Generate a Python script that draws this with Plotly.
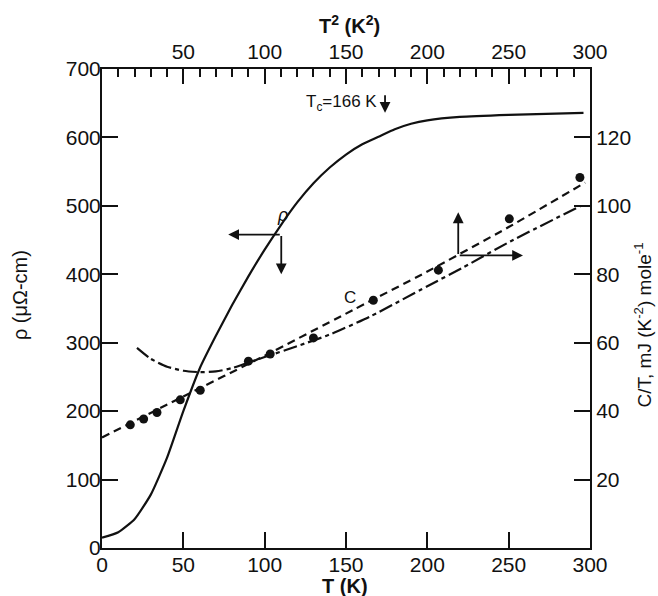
import plotly.graph_objects as go

# ---- data ----
# resistivity rho (micro-ohm cm) vs T (K)
rho_T = [0, 10, 20, 30, 40, 50, 60, 70, 80, 90, 100, 110, 120, 130, 140, 150, 160, 170, 180, 190, 200, 220, 250, 296]
rho_v = [15, 23, 42, 78, 132, 200, 262, 310, 355, 397, 436, 472, 505, 533, 556, 575, 590, 601, 612, 620, 625, 630, 633, 636]

# measured C/T points (mJ K^-2 mole^-1) vs T^2 scale
pts_x = [17.4, 25.6, 33.8, 48.1, 60.4, 90.0, 103.4, 130.0, 166.8, 206.8, 250.4, 293.8]
pts_y = [36.0, 37.7, 39.6, 43.3, 46.1, 54.6, 56.7, 61.4, 72.4, 81.2, 96.2, 108.3]

# upper dashed fit line (C)
fit_x = [0, 50, 100, 150, 200, 250, 297]
fit_y = [32.3, 44.3, 56.2, 68.5, 80.8, 93.8, 106.8]

# lower dash-dot curve
low_x = [21.5, 30, 40, 50, 60, 70, 80, 90, 100, 120, 140, 165, 200, 222, 251, 294]
low_y = [58.5, 55.3, 53.0, 51.8, 51.4, 51.6, 52.6, 54.2, 55.8, 59.0, 62.4, 67.7, 76.5, 82.0, 89.6, 99.9]

bottom_ticks = [0, 50, 100, 150, 200, 250, 300]
top_ticks = [50, 100, 150, 200, 250, 300]
left_ticks = [0, 100, 200, 300, 400, 500, 600, 700]
right_ticks = [20, 40, 60, 80, 100, 120]

FONT = "Liberation Sans"
INK = "#111111"

fig = go.Figure()

fig.add_trace(go.Scatter(x=rho_T, y=rho_v, mode="lines", xaxis="x", yaxis="y",
                         line=dict(color=INK, width=2.2, shape="spline", smoothing=0.5),
                         showlegend=False, hoverinfo="skip"))
fig.add_trace(go.Scatter(x=fit_x, y=fit_y, mode="lines", xaxis="x2", yaxis="y2",
                         line=dict(color=INK, width=2.2, dash="8px,5px", shape="spline", smoothing=0.5),
                         showlegend=False, hoverinfo="skip"))
fig.add_trace(go.Scatter(x=low_x, y=low_y, mode="lines", xaxis="x2", yaxis="y2",
                         line=dict(color=INK, width=2.2, dash="14px,4px,4px,4px", shape="spline", smoothing=0.6),
                         showlegend=False, hoverinfo="skip"))
fig.add_trace(go.Scatter(x=pts_x, y=pts_y, mode="markers", xaxis="x2", yaxis="y2",
                         marker=dict(color=INK, size=9),
                         showlegend=False, hoverinfo="skip"))

tickfont = dict(family=FONT, size=21, color=INK)
axis_common = dict(showgrid=False, zeroline=False, showline=True, linecolor=INK, linewidth=2,
                   ticks="inside", tickcolor=INK, tickwidth=1.5, tickfont=tickfont)

fig.update_layout(
    width=658, height=596,
    margin=dict(l=102, r=68, t=69, b=48),
    paper_bgcolor="white", plot_bgcolor="white",
    xaxis=dict(range=[0, 300], tickvals=bottom_ticks, ticklen=16, ticklabelstandoff=-3, **axis_common),
    yaxis=dict(range=[0, 700], tickvals=left_ticks, ticklen=16, ticklabelstandoff=-5, **axis_common),
    xaxis2=dict(range=[0, 300], tickvals=top_ticks, ticklen=15, overlaying="x", side="top",
                minor=dict(dtick=10, tick0=0, ticklen=8, ticks="inside", tickcolor=INK, tickwidth=1.5),
                **axis_common),
    yaxis2=dict(range=[0, 140], tickvals=right_ticks, ticklen=16, overlaying="y", side="right",
                **axis_common),
)

txt = dict(family=FONT, size=20, color=INK)
ann = []
# axis titles
ann.append(dict(text="ρ (μΩ-cm)", xref="paper", yref="paper", x=-0.168, y=0.528,
                xanchor="center", yanchor="middle", textangle=-90, showarrow=False, font=txt))
ann.append(dict(text="C/T, mJ (K<sup>-2</sup>) mole<sup>-1</sup>", xref="paper", yref="paper",
                x=1.108, y=0.466, xanchor="center", yanchor="middle", textangle=-90, showarrow=False,
                font=dict(family=FONT, size=19, color=INK)))
ann.append(dict(text="<b>T (K)</b>", xref="paper", yref="paper", x=0.498, y=-0.079,
                xanchor="center", yanchor="middle", showarrow=False, font=txt))
ann.append(dict(text="<b>T<sup>2</sup> (K<sup>2</sup>)</b>", xref="paper", yref="paper", x=0.508, y=1.092,
                xanchor="center", yanchor="middle", showarrow=False, font=txt))
# Tc label and arrow
ann.append(dict(text="T<sub>c</sub>=166 K", xref="x", yref="y", x=170, y=650, xanchor="right",
                yanchor="middle", showarrow=False, font=dict(family=FONT, size=17, color=INK)))
ann.append(dict(text="", xref="x", yref="y", x=174, y=636, ax=174, ay=664, axref="x", ayref="y",
                showarrow=True, arrowhead=2, arrowsize=1.2, arrowwidth=1.8, arrowcolor=INK))
# rho label and arrows
ann.append(dict(text="<i>ρ</i>", xref="x", yref="y", x=111, y=487, xanchor="center", yanchor="middle",
                showarrow=False, font=dict(family=FONT, size=18, color=INK)))
ann.append(dict(text="", xref="x", yref="y", x=77.6, y=458, ax=110.2, ay=458, axref="x", ayref="y",
                showarrow=True, arrowhead=2, arrowsize=1.2, arrowwidth=1.8, arrowcolor=INK))
ann.append(dict(text="", xref="x", yref="y", x=110.2, y=400, ax=110.2, ay=458, axref="x", ayref="y",
                showarrow=True, arrowhead=2, arrowsize=1.2, arrowwidth=1.8, arrowcolor=INK))
# C label and arrows
ann.append(dict(text="C", xref="x2", yref="y2", x=152.4, y=73.2, xanchor="center", yanchor="middle",
                showarrow=False, font=dict(family=FONT, size=17, color=INK)))
ann.append(dict(text="", xref="x2", yref="y2", x=219, y=98.1, ax=219, ay=85.5, axref="x2", ayref="y2",
                showarrow=True, arrowhead=2, arrowsize=1.2, arrowwidth=1.8, arrowcolor=INK))
ann.append(dict(text="", xref="x2", yref="y2", x=258.8, y=85.5, ax=219, ay=85.5, axref="x2", ayref="y2",
                showarrow=True, arrowhead=2, arrowsize=1.2, arrowwidth=1.8, arrowcolor=INK))
fig.update_layout(annotations=ann)

fig.write_html("out.html", config={"displayModeBar": False},
               post_script="document.body.style.margin='0';")
